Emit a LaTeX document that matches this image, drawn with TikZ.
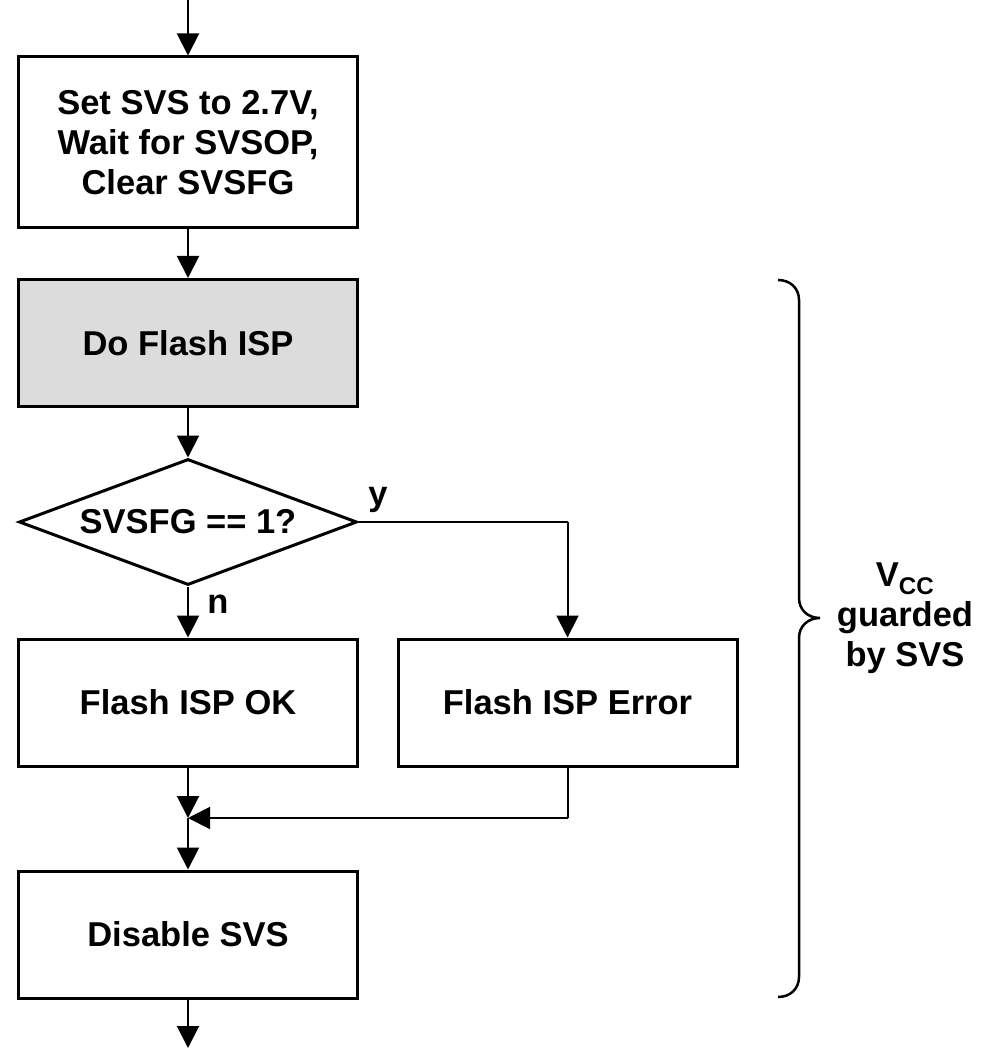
\documentclass[tikz,border=0pt]{standalone}
\usepackage{fontspec}
\setmainfont{Liberation Sans}
\usetikzlibrary{arrows.meta,shapes.geometric}
\begin{document}
\begin{tikzpicture}[x=1pt,y=-1pt,
  every node/.style={font=\fontsize{34.5}{40}\selectfont\bfseries},
  stepbox/.style={draw=black, line width=3pt, minimum width=339pt, inner sep=0pt, align=center},
  decide/.style={draw=black, line width=3pt, diamond, shape aspect=2.68, minimum width=338pt, minimum height=126pt, inner sep=0pt},
  flow/.style={line width=2pt, -{Triangle[width=22pt,length=22pt]}},
  plain/.style={line width=2pt},
  lbl/.style={anchor=base, inner sep=0pt}
]
\useasboundingbox (0,0) rectangle (983,1048);
\fill[white] (0,0) rectangle (983,1048);

\coordinate (top) at (188,0);
\node[stepbox, minimum height=171pt] (b1) at (188,142.5) {Set SVS to 2.7V,\\Wait for SVSOP,\\Clear SVSFG};
\node[stepbox, minimum height=127pt, fill={rgb,255:red,220;green,220;blue,220}] (b2) at (188,343) {Do Flash ISP};
\node[decide] (d) at (188,522) {SVSFG == 1?};
\node[stepbox, minimum height=127pt] (b3) at (188,702.5) {Flash ISP OK};
\node[stepbox, minimum height=127pt] (b4) at (567.5,702.5) {Flash ISP Error};
\coordinate (m) at (188,818);
\node[stepbox, minimum height=127pt] (b5) at (188,934.5) {Disable SVS};
\coordinate (bot) at (188,1048);

\coordinate (yc) at (567.5,522);
\coordinate (ec) at (567.5,818);

\draw[flow] (top) -- (b1);
\draw[flow] (b1) -- (b2);
\draw[flow] (b2) -- (d.north);
\draw[flow] (d.south) -- (b3);
\draw[plain] (d.east) -- (yc);
\draw[flow] (yc) -- (b4);
\draw[flow] (b3) -- (m);
\draw[plain] (b4) -- (ec);
\draw[flow] (ec) -- (m);
\draw[flow] (m) -- (b5);
\draw[flow] (b5) -- (bot);

\node[lbl] (ly) at (378,505) {y};
\node[lbl] (ln) at (218,613) {n};

\draw[line width=2.5pt] (778,280) .. controls (790,280) and (799,288) .. (799,300)
  -- (799,598) .. controls (799,610) and (808,618) .. (820,618)
  .. controls (808,618) and (799,626) .. (799,638)
  -- (799,977) .. controls (799,989) and (790,997) .. (778,997);
\node[align=center] (vcc) at (905,618) {V\textsubscript{CC}\\guarded\\by SVS};
\end{tikzpicture}
\end{document}
